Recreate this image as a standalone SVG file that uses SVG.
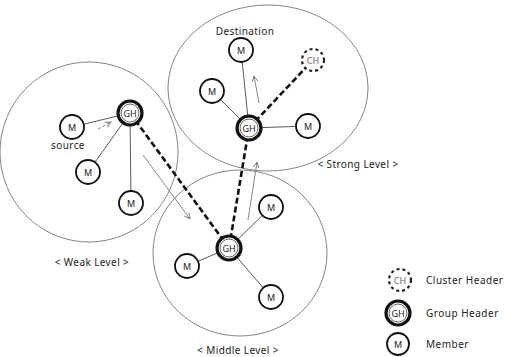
<svg xmlns="http://www.w3.org/2000/svg" width="507" height="357" viewBox="0 0 507 357">
<defs>
<marker id="arr" viewBox="0 0 10 10" refX="9" refY="5" markerWidth="7" markerHeight="7" orient="auto-start-reverse">
<path d="M1,1 L9,5 L1,9" fill="none" stroke="#777" stroke-width="1.3"/>
</marker>
</defs>
<style>
.area{fill:none;stroke:#666;stroke-width:0.8}
.thin{stroke:#444;stroke-width:0.9;fill:none}
.thick{stroke:#111;stroke-width:2.6;stroke-dasharray:6 3;fill:none}
.flow{stroke:#888;stroke-width:1;fill:none;marker-end:url(#arr)}
.m{fill:#fff;stroke:#111;stroke-width:1.8}
.gho{fill:#fff;stroke:#111;stroke-width:3.2}
.ghi{fill:none;stroke:#555;stroke-width:0.9}
.ch{fill:#fff;stroke:#222;stroke-width:2.2;stroke-dasharray:3 3}
.lbl{font-family:"Noto Sans","Liberation Sans",sans-serif;font-size:9px;fill:#222;text-anchor:middle;dominant-baseline:central}
.cap{font-size:10px;letter-spacing:0.4px}
.txt{font-family:"Noto Sans","Liberation Sans",sans-serif;font-size:10px;letter-spacing:0.5px;fill:#222;dominant-baseline:central}
.chl{fill:#666}
</style>
<g id="areas">
<ellipse class="area" cx="89" cy="152" rx="89" ry="90"/>
<ellipse class="area" cx="268" cy="88" rx="100" ry="83"/>
<ellipse class="area" cx="240" cy="253" rx="87" ry="83"/>
</g>
<g id="connectors">
<line class="thin" x1="72" y1="127" x2="130" y2="113"/>
<line class="thin" x1="130" y1="113" x2="88" y2="172"/>
<line class="thin" x1="130" y1="113" x2="131" y2="203"/>
<line class="thin" x1="249" y1="128" x2="241" y2="50"/>
<line class="thin" x1="249" y1="128" x2="212" y2="91"/>
<line class="thin" x1="249" y1="128" x2="308" y2="126"/>
<line class="thin" x1="229" y1="248" x2="271" y2="207"/>
<line class="thin" x1="229" y1="248" x2="187" y2="266"/>
<line class="thin" x1="229" y1="248" x2="271" y2="297"/>
<line class="thick" x1="130" y1="113" x2="229" y2="248"/>
<line class="thick" x1="229" y1="248" x2="249" y2="128"/>
<line class="thick" x1="249" y1="128" x2="313" y2="60"/>
<line class="flow" x1="98" y1="129" x2="111" y2="122" stroke-dasharray="3 2"/>
<line class="flow" x1="143" y1="155" x2="190" y2="219"/>
<line class="flow" x1="248" y1="220" x2="257" y2="162"/>
<line class="flow" x1="259" y1="103" x2="254" y2="76"/>
</g>
<g id="weak-gh"><circle class="gho" cx="130" cy="113" r="12"/><circle class="ghi" cx="130" cy="113" r="9"/><text class="lbl" x="130" y="113">GH</text></g>
<g id="weak-source"><circle class="m" cx="72" cy="127" r="12"/><text class="lbl" x="72" y="127">M</text><text class="lbl cap" x="68" y="145">source</text></g>
<g id="weak-m1"><circle class="m" cx="88" cy="172" r="12"/><text class="lbl" x="88" y="172">M</text></g>
<g id="weak-m2"><circle class="m" cx="131" cy="203" r="12"/><text class="lbl" x="131" y="203">M</text></g>
<g id="strong-gh"><circle class="gho" cx="249" cy="128" r="12"/><circle class="ghi" cx="249" cy="128" r="9"/><text class="lbl" x="249" y="128">GH</text></g>
<g id="strong-dest"><circle class="m" cx="241" cy="50" r="12"/><text class="lbl" x="241" y="50">M</text><text class="lbl cap" x="245" y="31">Destination</text></g>
<g id="strong-m1"><circle class="m" cx="212" cy="91" r="12"/><text class="lbl" x="212" y="91">M</text></g>
<g id="strong-m2"><circle class="m" cx="308" cy="126" r="12"/><text class="lbl" x="308" y="126">M</text></g>
<g id="strong-ch"><circle class="ch" cx="313" cy="60" r="11"/><text class="lbl chl" x="313" y="60">CH</text></g>
<g id="middle-gh"><circle class="gho" cx="229" cy="248" r="12"/><circle class="ghi" cx="229" cy="248" r="9"/><text class="lbl" x="229" y="248">GH</text></g>
<g id="middle-m1"><circle class="m" cx="271" cy="207" r="12"/><text class="lbl" x="271" y="207">M</text></g>
<g id="middle-m2"><circle class="m" cx="187" cy="266" r="12"/><text class="lbl" x="187" y="266">M</text></g>
<g id="middle-m3"><circle class="m" cx="271" cy="297" r="12"/><text class="lbl" x="271" y="297">M</text></g>
<g id="labels">
<text class="lbl cap" x="92" y="262">&lt; Weak Level &gt;</text>
<text class="lbl cap" x="358" y="164">&lt; Strong Level &gt;</text>
<text class="lbl cap" x="238" y="350">&lt; Middle Level &gt;</text>
</g>
<g id="legend-ch"><circle class="ch" cx="400" cy="280" r="11"/><text class="lbl chl" x="400" y="280">CH</text><text class="txt" x="426" y="280">Cluster Header</text></g>
<g id="legend-gh"><circle class="gho" cx="398" cy="313" r="12"/><circle class="ghi" cx="398" cy="313" r="9"/><text class="lbl" x="398" y="313">GH</text><text class="txt" x="426" y="313">Group Header</text></g>
<g id="legend-m"><circle class="m" cx="398" cy="344" r="11"/><text class="lbl" x="398" y="344">M</text><text class="txt" x="426" y="344">Member</text></g>
</svg>
